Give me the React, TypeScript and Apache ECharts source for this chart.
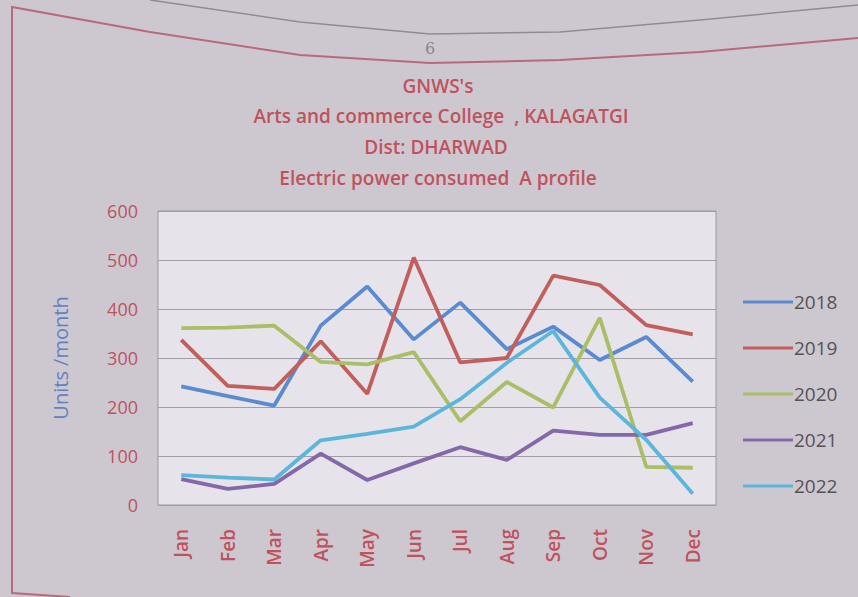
import React, { useEffect, useRef } from "react";
import * as echarts from "echarts";

const months = ["Jan", "Feb", "Mar", "Apr", "May", "Jun", "Jul", "Aug", "Sep", "Oct", "Nov", "Dec"];
const seriesNames = ["2018", "2019", "2020", "2021", "2022"];
const s2018 = [242, 222, 203, 366, 446, 338, 413, 318, 364, 296, 343, 252];
const s2019 = [337, 243, 237, 334, 227, 505, 291, 300, 468, 449, 367, 348];
const s2020 = [361, 362, 366, 292, 287, 312, 171, 251, 199, 382, 78, 76];
const s2021 = [53, 33, 43, 105, 51, 85, 118, 92, 152, 143, 143, 167];
const s2022 = [61, 56, 52, 132, 145, 160, 216, 290, 355, 219, 133, 23];
const titleLines = ["GNWS's", "Arts and commerce College  , KALAGATGI", "Dist: DHARWAD", "Electric power consumed  A profile"];
const colors = ["#5a8ad0", "#c25e5c", "#a9be66", "#8468aa", "#5cb6dc"];

export default function App() {
  const ref = useRef<HTMLDivElement>(null);
  useEffect(() => {
    const chart = echarts.init(ref.current!, null, { renderer: "svg" });
    const data = [s2018, s2019, s2020, s2021, s2022];
    const font = "'Open Sans', 'Noto Sans', sans-serif";
    const titleColor = "#c0525e";
    chart.setOption({
      animation: false,
      backgroundColor: "#cdc8d0",
      textStyle: { fontFamily: font },
      graphic: [
        { type: "polyline", shape: { points: [[150, 0], [300, 22], [430, 34], [560, 32], [700, 20], [858, 5]] }, style: { stroke: "#8f8a96", lineWidth: 1.5, fill: null } },
        { type: "polyline", shape: { points: [[70, 597], [12, 593], [12, 7], [150, 32], [300, 55], [430, 63], [560, 60], [700, 52], [858, 38]] }, style: { stroke: "#b86a78", lineWidth: 2, fill: null } },
        { type: "text", x: 430, y: 48, style: { text: "6", fill: "#8a8590", font: "16px 'DejaVu Serif', serif", textAlign: "center", textVerticalAlign: "middle" } },
        ...titleLines.map((t, i) => ({
          type: "text",
          x: [438, 441, 436, 438][i],
          y: [86, 116, 147, 178][i],
          style: { text: t, fill: titleColor, font: `600 19px ${font}`, textAlign: "center", textVerticalAlign: "middle" },
        })),
      ],
      legend: {
        orient: "vertical",
        left: 738,
        top: 284,
        itemGap: 20,
        itemWidth: 50,
        itemHeight: 26,
        icon: "path://M0,11.5 L50,11.5 L50,14.5 L0,14.5 Z",
        textStyle: { color: "#555258", fontSize: 19, fontFamily: font, padding: [0, 0, 0, -4], height: 26, lineHeight: 26 },
        data: seriesNames,
      },
      grid: {
        left: 158,
        right: 142,
        top: 211,
        bottom: 92,
        show: true,
        backgroundColor: "#e6e4ea",
        borderColor: "#9c98a0",
        borderWidth: 1,
      },
      xAxis: {
        type: "category",
        data: months,
        boundaryGap: true,
        axisLine: { show: false },
        axisTick: { show: false },
        axisLabel: { rotate: 90, color: titleColor, fontSize: 19, fontWeight: 600, fontFamily: font, margin: 24 },
      },
      yAxis: {
        type: "value",
        min: 0,
        max: 600,
        interval: 100,
        name: "Units /month",
        nameLocation: "middle",
        nameGap: 88,
        nameTextStyle: { color: "#5f82c4", fontSize: 20, fontFamily: font },
        axisLine: { show: false },
        axisTick: { show: false },
        axisLabel: { color: titleColor, fontSize: 18, fontFamily: font, margin: 20 },
        splitLine: { lineStyle: { color: "#a29ea6", width: 1 } },
      },
      series: seriesNames.map((n, i) => ({
        name: n,
        type: "line",
        data: data[i],
        symbol: "none",
        lineStyle: { width: 3.8, color: colors[i] },
        itemStyle: { color: colors[i] },
      })),
    });
    return () => chart.dispose();
  }, []);
  return <div ref={ref} style={{ position: "absolute", left: 0, top: 0, width: 858, height: 597 }} />;
}
